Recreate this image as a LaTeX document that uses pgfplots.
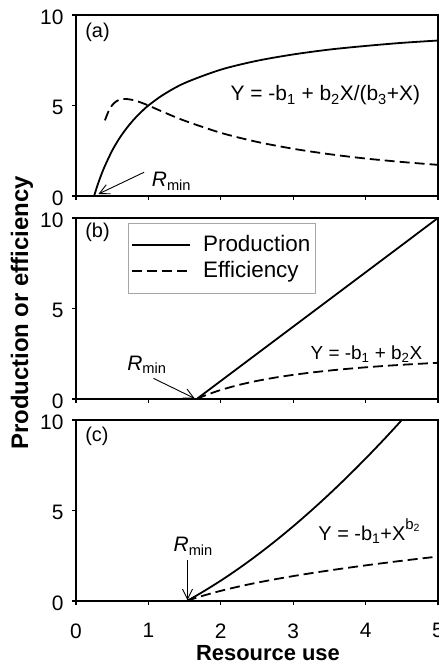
\documentclass[border=0pt]{standalone}
\usepackage{fontspec}
\setmainfont{Liberation Sans}
\usepackage{pgfplots}
\pgfplotsset{compat=1.18}
\usetikzlibrary{arrows.meta}

\newcommand{\ft}{\fontsize{21}{24}\selectfont}
\newcommand{\fs}{\fontsize{20}{24}\selectfont}
\newcommand{\fl}{\fontsize{22}{26}\selectfont\bfseries}

\tikzset{arr/.style={-{Straight Barb[length=10bp,width=10bp]}, line width=0.9bp}}

\pgfplotsset{
  panel/.style={
    scale only axis, width=362bp, height=181bp,
    xmin=0, xmax=5, ymin=0, ymax=10,
    xtick={0,1,2,3,4,5}, ytick={0,5,10},
    tick align=outside, xtick pos=left, ytick pos=left,
    major tick length=4bp,
    axis line style={line width=1.1bp},
    every tick/.style={black, line width=1.1bp},
    tick label style={font=\ft},
    xticklabel style={yshift=-15bp},
    yticklabel style={xshift=-5bp, yshift=-2bp},
    /pgf/number format/assume math mode=true,
  },
  prod/.style={black, line width=1.8bp, no markers, line join=round},
  eff/.style={black, line width=1.8bp, no markers, dash pattern=on 10bp off 5bp},
}

\begin{document}
\begin{tikzpicture}
\path[use as bounding box] (0,0) rectangle (439bp,665bp);

% (a) hyperbolic response
\begin{axis}[panel, at={(76bp,469bp)}, anchor=south west, xticklabels={}]
\addplot[prod, smooth] coordinates {
 (0.25,0) (0.275,0.32) (0.3,0.63) (0.325,0.91) (0.35,1.18) (0.4,1.67) (0.5,2.51)
 (0.6,3.19) (0.7,3.75) (0.8,4.23) (0.9,4.64) (1.0,5.00) (1.2,5.58) (1.5,6.24)
 (2.0,6.98) (2.5,7.47) (3.0,7.82) (3.5,8.09) (4.0,8.29) (4.5,8.46) (5.0,8.59)};
\addplot[eff, smooth] coordinates {
 (0.4,4.18) (0.45,4.69) (0.5,5.02) (0.55,5.21) (0.6,5.32) (0.65,5.36) (0.7,5.36)
 (0.8,5.29) (0.9,5.16) (1.0,5.00) (1.2,4.65) (1.5,4.16) (2.0,3.49) (2.5,2.99)
 (3.0,2.61) (3.5,2.31) (4.0,2.07) (4.5,1.88) (5.0,1.72)};
\node[anchor=base west, font=\fs] at (axis cs:0.08,8.75) {(a)};
\node[anchor=base east, font=\fontsize{21}{24}\selectfont] at (axis cs:4.8,5.25)
  {Y = -b\textsubscript{1} + b\textsubscript{2}X/(b\textsubscript{3}+X)};
\node[anchor=base west, font=\ft] at (axis cs:1.0,0.5) {\textit{R}\textsubscript{min}};
\draw[arr] (axis cs:0.94,1.31) -- (axis cs:0.31,0.11);
\end{axis}

% (b) linear response
\begin{axis}[panel, at={(76bp,266bp)}, anchor=south west, xticklabels={},
  legend style={at={(0.144,0.972)}, anchor=north west, draw=gray!70,
    font=\fontsize{22.5}{26}\selectfont,
    inner xsep=3bp, inner ysep=10bp, row sep=2bp,
    nodes={inner ysep=2bp, text height=16bp, text depth=4bp}},
  legend cell align=left,
  legend image code/.code={\draw[#1, line width=1.8bp] (0bp,0bp) -- (58bp,0bp);}]
\addplot[prod] coordinates {(1.667,0) (5,10)};
\addlegendentry{\hspace{10bp}Production}
\addplot[eff, smooth] coordinates {
 (1.667,0) (1.75,0.143) (1.8,0.222) (2.0,0.5) (2.25,0.778) (2.5,1.0) (2.75,1.182)
 (3.0,1.333) (3.25,1.462) (3.5,1.571) (3.75,1.667) (4.0,1.75) (4.25,1.824)
 (4.5,1.889) (4.75,1.947) (5.0,2.0)};
\addlegendentry{\hspace{10bp}Efficiency}
\node[anchor=base west, font=\fs] at (axis cs:0.08,8.9) {(b)};
\node[anchor=base east, font=\fontsize{19}{22}\selectfont] at (axis cs:4.83,2.2)
  {Y = -b\textsubscript{1} + b\textsubscript{2}X};
\node[anchor=base west, font=\ft] at (axis cs:0.66,1.6) {\textit{R}\textsubscript{min}};
\draw[arr] (axis cs:1.07,1.14) -- (axis cs:1.64,0.03);
\end{axis}

% (c) power response
\begin{axis}[panel, at={(76bp,64bp)}, anchor=south west]
\addplot[prod, smooth] coordinates {
 (1.53,0) (1.6,0.155) (1.75,0.502) (2.0,1.125) (2.25,1.801) (2.5,2.528)
 (2.75,3.304) (3.0,4.127) (3.25,4.997) (3.5,5.912) (3.75,6.870) (4.0,7.870)
 (4.25,8.912) (4.5,9.997) (4.75,11.118)};
\addplot[eff, smooth] coordinates {
 (1.53,0) (1.6,0.097) (1.75,0.287) (2.0,0.563) (2.25,0.800) (2.5,1.011)
 (2.75,1.201) (3.0,1.376) (3.25,1.538) (3.5,1.689) (3.75,1.832) (4.0,1.968)
 (4.25,2.097) (4.5,2.222) (4.75,2.341) (5.0,2.456)};
\node[anchor=base west, font=\fs] at (axis cs:0.08,8.8) {(c)};
\node[anchor=base west, font=\fontsize{20}{24}\selectfont] at (axis cs:3.3,3.37)
  {Y = -b\textsubscript{1}+X\raisebox{1.0ex}{\fontsize{15}{17}\selectfont b\textsubscript{2}}};
\node[anchor=base west, font=\ft] at (axis cs:1.3,2.72) {\textit{R}\textsubscript{min}};
\draw[arr] (axis cs:1.54,2.27) -- (axis cs:1.54,0.05);
\end{axis}

\node[rotate=90, anchor=base, font=\fontsize{24}{28}\selectfont\bfseries] at (28bp,352bp) {Production or efficiency};
\node[anchor=base, font=\fl] at (268bp,5bp) {Resource use};
\end{tikzpicture}
\end{document}
